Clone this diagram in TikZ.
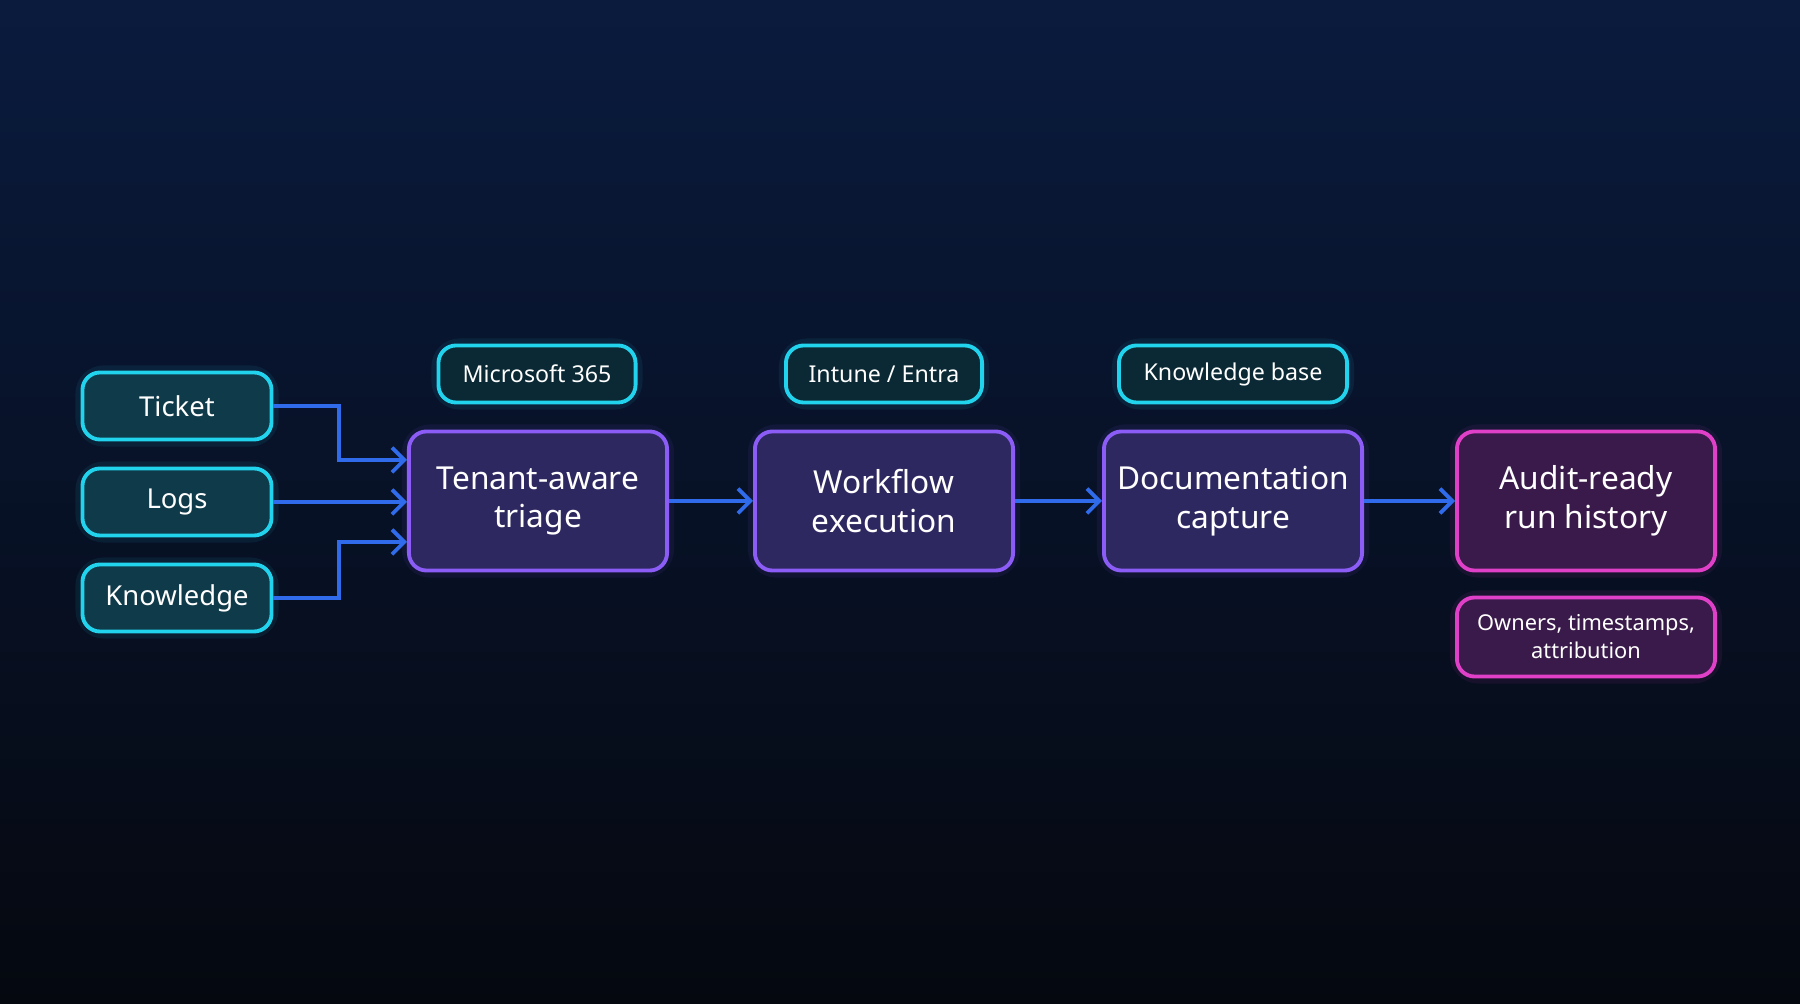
\documentclass[tikz,border=0pt]{standalone}
\usepackage{fontspec}
\setmainfont{Noto Sans}
\usetikzlibrary{arrows.meta}
\definecolor{bgtop}{HTML}{0A1B3E}
\definecolor{bgbot}{HTML}{05080F}
\definecolor{cyanb}{HTML}{22D3EE}
\definecolor{cyanf}{HTML}{0F3A4A}
\definecolor{purb}{HTML}{8B5CF6}
\definecolor{purf}{HTML}{2E2860}
\definecolor{pinkb}{HTML}{E040C8}
\definecolor{pinkf}{HTML}{3A1A4A}
\definecolor{arr}{HTML}{2F6BEA}
\tikzset{
 box/.style={rounded corners=5pt, line width=1.1pt, align=center, text=white, inner sep=0pt},
 inp/.style={box, draw=cyanb, fill=cyanf, minimum width=1.89cm, minimum height=0.67cm, font=\fontsize{7.8}{9}\selectfont},
 tag/.style={box, draw=cyanb, fill=cyanf!70!black, minimum height=0.57cm, font=\fontsize{6.6}{8}\selectfont},
 main/.style={box, draw=purb, fill=purf, minimum width=2.58cm, minimum height=1.39cm, font=\fontsize{9}{11}\selectfont},
 pmain/.style={box, draw=pinkb, fill=pinkf, minimum width=2.58cm, minimum height=1.39cm, font=\fontsize{9}{11}\selectfont},
 note/.style={box, draw=pinkb, fill=pinkf, minimum width=2.58cm, minimum height=0.79cm, font=\fontsize{6.2}{8}\selectfont},
 conn/.style={draw=arr, line width=1.1pt, -{Straight Barb[length=3.5pt,width=7pt]}},
 glowc/.style={draw=#1, line width=4pt, opacity=0.08, rounded corners=6pt}
}
\begin{document}
\begin{tikzpicture}[x=0.01cm,y=-0.01cm]
\shade[top color=bgtop, bottom color=bgbot] (0,0) rectangle (1800,1004);
\useasboundingbox (0,0) rectangle (1800,1004);
% glows behind
\foreach \cx/\cy/\w/\h/\c in {177/406/189/67/cyanb,177/502/189/67/cyanb,177/598/189/67/cyanb,537/374/197/57/cyanb,884/374/196/57/cyanb,1233/374/228/57/cyanb,538/501/258/139/purb,884/501/258/139/purb,1233/501/258/139/purb,1586/501/258/139/pinkb,1586/637/258/79/pinkb}
  \draw[glowc=\c] (\cx-\w/2,\cy-\h/2) rectangle (\cx+\w/2,\cy+\h/2);
% inputs
\node[inp] (ticket) at (177,406) {Ticket};
\node[inp] (logs) at (177,502) {Logs};
\node[inp] (know) at (177,598) {Knowledge};
% main
\node[main] (triage) at (538,501) {Tenant-aware\\triage};
\node[main] (work) at (884,501) {Workflow\\execution};
\node[main] (doc) at (1233,501) {Documentation\\capture};
\node[pmain] (audit) at (1586,501) {Audit-ready\\run history};
% tags
\node[tag, minimum width=1.97cm] (ms) at (537,374) {Microsoft 365};
\node[tag, minimum width=1.96cm] (intune) at (884,374) {Intune / Entra};
\node[tag, minimum width=2.28cm] (kb) at (1233,374) {Knowledge base};
\node[note] (owners) at (1586,637) {Owners, timestamps,\\attribution};
% connectors
\draw[conn] (ticket.east) -- (339,406) -- (339,460) -- (triage.west |- 0,460);
\draw[conn] (logs.east) -- (triage.west |- logs.east);
\draw[conn] (know.east) -- (339,598) -- (339,542) -- (triage.west |- 0,542);
\draw[conn] (triage) -- (work);
\draw[conn] (work) -- (doc);
\draw[conn] (doc) -- (audit);
\end{tikzpicture}
\end{document}
